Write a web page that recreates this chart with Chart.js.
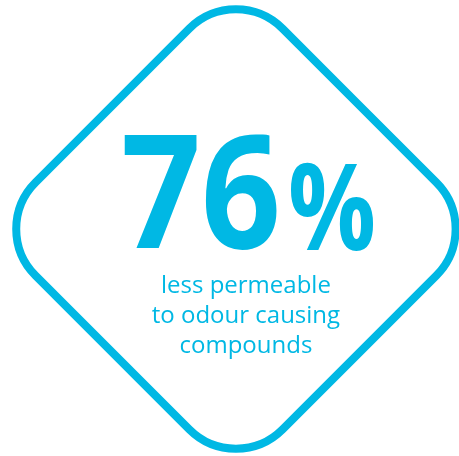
<!DOCTYPE html>
<html>
<head>
<meta charset="utf-8">
<script src="https://cdn.jsdelivr.net/npm/chart.js@4/dist/chart.umd.min.js"></script>
<style>
  html, body { margin: 0; padding: 0; background: #fff; }
  #wrap { width: 459px; height: 456px; }
</style>
</head>
<body>
<div id="wrap"><canvas id="myChart"></canvas></div>
<script>
// data
const categories = ['less permeable to odour causing compounds'];
const values = [76];
const unit = '%';
const labelLines = ['less permeable', 'to odour causing', 'compounds'];

const cyan = '#00B8E4';

// rounded diamond frame + the big number, drawn off the chart scales
const badgePlugin = {
    id: 'badge',
    afterDatasetsDraw(chart) {
        const { ctx, scales: { x, y } } = chart;
        const top = [x.getPixelForValue(0), y.getPixelForValue(1)];
        const right = [x.getPixelForValue(1), y.getPixelForValue(0)];
        const bottom = [x.getPixelForValue(0), y.getPixelForValue(-1)];
        const left = [x.getPixelForValue(-1), y.getPixelForValue(0)];
        const cx = top[0], cy = right[1];
        const r = 66;

        ctx.save();
        ctx.beginPath();
        ctx.moveTo((top[0] + right[0]) / 2, (top[1] + right[1]) / 2);
        ctx.arcTo(right[0], right[1], bottom[0], bottom[1], r);
        ctx.arcTo(bottom[0], bottom[1], left[0], left[1], r);
        ctx.arcTo(left[0], left[1], top[0], top[1], r);
        ctx.arcTo(top[0], top[1], right[0], right[1], r);
        ctx.closePath();
        ctx.lineWidth = 8;
        ctx.strokeStyle = cyan;
        ctx.stroke();

        ctx.fillStyle = cyan;
        ctx.textBaseline = 'alphabetic';
        ctx.textAlign = 'left';

        // number
        const num = String(values[0]);
        ctx.font = 'bold 158px "Open Sans"';
        let w = ctx.measureText(num).width;
        let sx = 160 / w;
        ctx.save();
        ctx.translate(cx - 115, cy + 19);
        ctx.scale(sx, 1);
        ctx.fillText(num, 0, 0);
        ctx.restore();

        // percent sign
        ctx.font = 'bold 120px "Open Sans"';
        w = ctx.measureText(unit).width;
        sx = 88 / w;
        ctx.save();
        ctx.translate(cx + 52, cy + 21);
        ctx.scale(sx, 1);
        ctx.fillText(unit, 0, 0);
        ctx.restore();

        // caption
        ctx.textAlign = 'center';
        ctx.font = '24px "Open Sans"';
        labelLines.forEach((line, i) => {
            ctx.fillText(line, cx + 10, cy + 64 + i * 30);
        });
        ctx.restore();
    }
};

new Chart(document.getElementById('myChart'), {
    type: 'scatter',
    data: {
        labels: categories,
        datasets: [{
            label: categories[0],
            data: values.map(v => ({ x: 0, y: 0, v })),
            pointRadius: 0,
            pointHoverRadius: 0
        }]
    },
    options: {
        responsive: true,
        maintainAspectRatio: false,
        animation: false,
        layout: { padding: 0 },
        scales: {
            x: { min: -0.955, max: 0.903, display: false },
            y: { min: -0.919, max: 0.927, display: false }
        },
        plugins: {
            legend: { display: false },
            tooltip: { enabled: false }
        }
    },
    plugins: [badgePlugin]
});
</script>
</body>
</html>
